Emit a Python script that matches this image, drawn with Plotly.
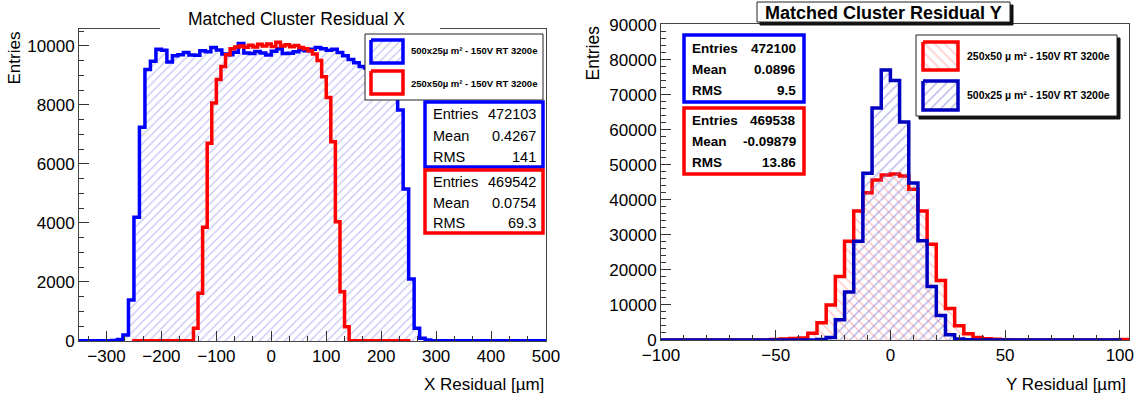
import plotly.graph_objects as go
import numpy as np

W, H = 1141, 398

# ---------------- data ----------------
# Left panel: X residual, blue = 500x25, 10 um bins from -350
x_blue_lo, x_blue_bw = -350, 10
x_blue = [10, 10, 10, 10, 10, 10, 20, 50, 200, 1390, 4190, 7240, 9200, 9480, 9880,
          9850, 9450, 9660, 9700, 9770, 9690, 9680, 9830, 9800, 9940, 9860, 9720,
          9700, 9780, 10080, 9760, 9740, 9810, 9760, 9690, 9820, 9900, 9740, 9750,
          9800, 9870, 9830, 9880, 9940, 9900, 9850, 9880, 9770, 9660, 9540, 9430,
          9300, 9250, 9200, 9150, 9100, 9000, 8800, 7830, 5150, 2100, 430, 90, 30,
          10, 10, 10, 10, 10, 10, 10, 10, 10, 10, 10, 10, 10, 10, 10, 10, 10, 10,
          10, 10, 10]
# red = 250x50, 60 bins from -250 to 250
x_red_lo, x_red_bw = -250, 500 / 60
x_red = [10, 10, 10, 10, 10, 10, 10, 10, 10, 10, 10, 10, 10, 430, 1620, 3850, 6700,
         8060, 8860, 9300, 9700, 9900, 9960, 9990, 9950, 10020, 9960, 10050, 9990,
         10060, 9980, 10120, 9990, 10040, 9970, 10010, 9940, 9900, 9830, 9720, 9500,
         8950, 8250, 6750, 4040, 1670, 480, 10, 10, 10, 10, 10, 10, 10, 10, 10, 10,
         10, 10, 10]

# Right panel: Y residual, 4 um bins from -100
y_bw = 4
y_blue_lo = -100
y_blue = [5, 5, 5, 5, 5, 5, 5, 5, 5, 5, 5, 5, 5, 5, 5, 5, 30, 120, 700, 5800, 13700,
          28200, 47600, 66200, 77100, 74100, 62200, 44800, 28300, 15300, 7000, 1500,
          300, 60, 5, 5, 5, 5, 5, 5, 5, 5, 5, 5, 5, 5, 5, 5, 5, 5]
y_red_lo = -100
y_red = [5, 5, 5, 5, 5, 5, 5, 5, 5, 5, 5, 5, 150, 250, 400, 600, 1900, 4900, 10000,
         18100, 28200, 36800, 42000, 45700, 47100, 47400, 46800, 43000, 36800, 27300,
         17000, 9000, 4100, 1800, 700, 350, 200, 100, 5, 5, 5, 5, 5, 5, 5, 5, 5, 5, 5,
         5, 150]

stat_labels = ["Entries", "Mean", "RMS"]
stats_x_blue = ["472103", "0.4267", "141"]
stats_x_red = ["469542", "0.0754", "69.3"]
stats_y_blue = ["472100", "0.0896", "9.5"]
stats_y_red = ["469538", "-0.09879", "13.86"]

leg_x = ["500x25µ m² - 150V RT 3200e", "250x50µ m² - 150V RT 3200e"]
leg_y = ["250x50 µ m² - 150V RT 3200e", "500x25 µ m² - 150V RT 3200e"]

title_x = "Matched Cluster Residual X"
title_y = "Matched Cluster Residual Y"

FONT = "Liberation Sans, Arial, Helvetica, sans-serif"
BLUE = "#0000ff"
DBLUE = "#0000c0"
RED = "#ff0000"


def step(lo, bw, counts):
    edges = lo + bw * np.arange(len(counts) + 1)
    xs = [edges[0]] + list(edges[:-1]) + [edges[-1], edges[-1]]
    ys = [0] + list(counts) + [counts[-1], 0]
    return xs, ys


def px(x):
    return x / W


def py(y):
    return 1 - y / H


fig = go.Figure()

# ---- left histograms ----
xs, ys = step(x_blue_lo, x_blue_bw, x_blue)
fig.add_trace(go.Scatter(x=xs, y=ys, mode="lines", line=dict(color=BLUE, width=3.5, shape="hv"),
                         fill="tozeroy", fillcolor="rgba(0,0,0,0)",
                         fillpattern=dict(shape="/", fgcolor="#8c8ce8", bgcolor="rgba(0,0,0,0)",
                                          size=6, solidity=0.22),
                         xaxis="x", yaxis="y", hoverinfo="skip", showlegend=False))
xs, ys = step(x_red_lo, x_red_bw, x_red)
fig.add_trace(go.Scatter(x=xs, y=ys, mode="lines", line=dict(color=RED, width=3.5, shape="hv"),
                         xaxis="x", yaxis="y", hoverinfo="skip", showlegend=False))

# ---- right histograms ----
xs, ys = step(y_red_lo, y_bw, y_red)
fig.add_trace(go.Scatter(x=xs, y=ys, mode="lines", line=dict(color=RED, width=3.5, shape="hv"),
                         fill="tozeroy", fillcolor="rgba(0,0,0,0)",
                         fillpattern=dict(shape="\\", fgcolor="#ff8c8c", bgcolor="rgba(0,0,0,0)",
                                          size=7, solidity=0.22),
                         xaxis="x2", yaxis="y2", hoverinfo="skip", showlegend=False))
xs, ys = step(y_blue_lo, y_bw, y_blue)
fig.add_trace(go.Scatter(x=xs, y=ys, mode="lines", line=dict(color=DBLUE, width=3.5, shape="hv"),
                         fill="tozeroy", fillcolor="rgba(0,0,0,0)",
                         fillpattern=dict(shape="/", fgcolor="#7070d8", bgcolor="rgba(0,0,0,0)",
                                          size=7, solidity=0.22),
                         xaxis="x2", yaxis="y2", hoverinfo="skip", showlegend=False))


# ---- overlay (pixel coordinate) legend boxes ----
def rect(x0, y0, x1, y1, line_color, line_width, fillcolor="white", pattern=None):
    kw = dict(x=[x0, x1, x1, x0, x0], y=[y0, y0, y1, y1, y0], mode="lines",
              line=dict(color=line_color, width=line_width), fill="toself",
              fillcolor=fillcolor, xaxis="x3", yaxis="y3", hoverinfo="skip", showlegend=False)
    if pattern:
        kw["fillpattern"] = pattern
    fig.add_trace(go.Scatter(**kw))


# left legend
rect(365, 34, 543, 100, "#222", 1)
rect(371, 40, 403, 63, BLUE, 3.5,
     pattern=dict(shape="/", fgcolor="#8c8ce8", bgcolor="white", size=6, solidity=0.22))
rect(371, 71, 403, 94, RED, 3.5)
# right legend (shadow + box)
rect(919, 38, 1120, 119, "#111", 1, fillcolor="#111")
rect(916, 35, 1117, 116, "#222", 1)
rect(923, 42, 958, 70, RED, 3.5,
     pattern=dict(shape="\\", fgcolor="#ff8c8c", bgcolor="white", size=7, solidity=0.22))
rect(923, 81, 958, 110, DBLUE, 3.5,
     pattern=dict(shape="/", fgcolor="#7070d8", bgcolor="white", size=7, solidity=0.22))

shapes = []
annotations = []


def box(x0, y0, x1, y1, color, width, fill="white"):
    shapes.append(dict(type="rect", xref="x3", yref="y3", x0=x0, y0=y0, x1=x1, y1=y1,
                       line=dict(color=color, width=width), fillcolor=fill, layer="above"))


def text(x, y, s, size, anchor="left", bold=False, angle=0, yanchor="middle", color="black"):
    if bold:
        s = "<b>" + s + "</b>"
    annotations.append(dict(x=x, y=y, xref="x3", yref="y3", text=s, showarrow=False,
                            xanchor=anchor, yanchor=yanchor, textangle=angle,
                            font=dict(family=FONT, size=size, color=color)))


# titles
box(160, -2, 440, 31, "rgba(0,0,0,0)", 0)
text(296, 19, title_x, 17.5, anchor="center")
box(760, 5, 1013, 25, "#111", 1, fill="#111")
box(757, 2, 1010, 22, "#222", 1)
text(883.5, 12.5, title_y, 18, anchor="center", bold=True)

# stats boxes left
box(425, 102, 543, 167, BLUE, 3.5)
box(425, 170, 543, 233, RED, 3.5)
for i, (lab, vb, vr) in enumerate(zip(stat_labels, stats_x_blue, stats_x_red)):
    yb = 114 + 21.5 * i
    yr = 182 + 20.5 * i
    text(431, yb, lab, 14.5)
    text(538, yb, vb, 14.5, anchor="right")
    text(431, yr, lab, 14.5)
    text(538, yr, vr, 14.5, anchor="right")

# stats boxes right
box(684, 35, 804, 102, BLUE, 3.5)
box(684, 108, 804, 174, RED, 3.5)
for i, (lab, vb, vr) in enumerate(zip(stat_labels, stats_y_blue, stats_y_red)):
    yb = 48 + 21 * i
    yr = 120.5 + 21 * i
    text(690, yb, lab, 13.5, bold=True)
    text(798, yb, vb, 13.5, anchor="right", bold=True)
    text(690, yr, lab, 13.5, bold=True)
    text(798, yr, vr, 13.5, anchor="right", bold=True)

# legend texts
text(409, 50, leg_x[0], 9.5, bold=True)
text(409, 83, leg_x[1], 9.5, bold=True)
text(965, 56, leg_y[0], 10.5, bold=True)
text(965, 95, leg_y[1], 10.5, bold=True)

# axis titles
text(14, 30, "Entries", 17, anchor="center", angle=-90, yanchor="top")
text(592, 24, "Entries", 17.5, anchor="center", angle=-90, yanchor="top")
text(546, 384, "X Residual [µm]", 17, anchor="right")
text(1128, 384, "Y Residual [µm]", 17, anchor="right")

axis_common = dict(showgrid=False, zeroline=False, showline=True, linecolor="#444", linewidth=1,
                   mirror=True, ticks="inside", ticklen=10, tickwidth=1, tickcolor="#333",
                   exponentformat="none", separatethousands=False, automargin=False,
                   tickformat="d",
                   tickfont=dict(family=FONT, size=17, color="black"), fixedrange=True)

fig.update_layout(
    width=W, height=H, margin=dict(l=0, r=0, t=0, b=0, pad=0), autosize=False,
    paper_bgcolor="white", plot_bgcolor="rgba(0,0,0,0)", showlegend=False,
    xaxis=dict(domain=[px(79), px(546)], range=[-350, 500], anchor="y", dtick=100, tick0=0,
               minor=dict(ticks="inside", ticklen=5, dtick=100 / 3, tick0=0, tickcolor="#333"),
               **axis_common),
    yaxis=dict(domain=[py(341), py(29)], range=[0, 10570], anchor="x", dtick=2000, tick0=0,
               minor=dict(ticks="inside", ticklen=5, dtick=500, tick0=0, tickcolor="#333"),
               **axis_common),
    xaxis2=dict(domain=[px(661), px(1129)], range=[-100, 104], anchor="y2", dtick=50, tick0=0,
                minor=dict(ticks="inside", ticklen=5, dtick=10, tick0=0, tickcolor="#333"),
                **axis_common),
    yaxis2=dict(domain=[py(340), py(24)], range=[0, 90200], anchor="x2", dtick=10000, tick0=0,
                minor=dict(ticks="inside", ticklen=5, dtick=2000, tick0=0, tickcolor="#333"),
                **axis_common),
    xaxis3=dict(domain=[0, 1], range=[0, W], anchor="y3", visible=False, fixedrange=True),
    yaxis3=dict(domain=[0, 1], range=[H, 0], anchor="x3", visible=False, fixedrange=True),
    shapes=shapes, annotations=annotations,
)

fig.write_html("out.html", config={"displayModeBar": False},
               post_script="document.body.style.margin='0';"
                           "document.body.style.padding='0';"
                           "document.body.style.overflow='hidden';")
